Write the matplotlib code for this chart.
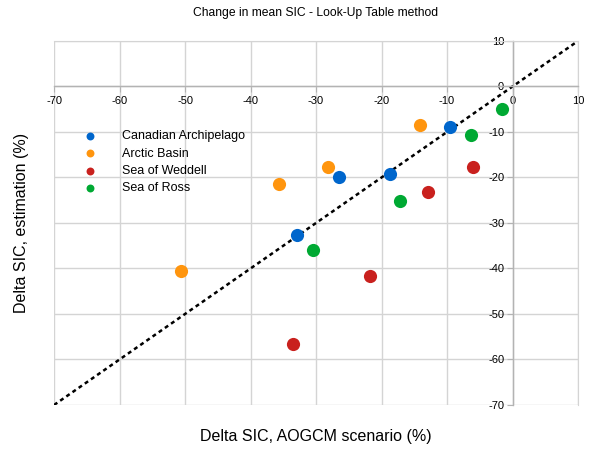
"""Change in mean SIC: look-up table estimate vs AOGCM scenario."""

import matplotlib

matplotlib.use("Agg")
import matplotlib.pyplot as plt

plt.rcParams["font.family"] = ["Liberation Sans", "DejaVu Sans"]
plt.rcParams["axes.unicode_minus"] = False

SERIES = ["Canadian Archipelago", "Arctic Basin", "Sea of Weddell", "Sea of Ross"]
COLORS = ["#0066cc", "#ff950e", "#c9211e", "#00a933"]

canadian_x = [-9.5, -18.7, -26.5, -32.9]
canadian_y = [-8.8, -19.3, -20.0, -32.6]
arctic_x = [-14.1, -28.2, -35.6, -50.6]
arctic_y = [-8.5, -17.7, -21.5, -40.5]
weddell_x = [-6.0, -12.9, -21.8, -33.5]
weddell_y = [-17.7, -23.1, -41.6, -56.7]
ross_x = [-1.6, -6.3, -17.2, -30.4]
ross_y = [-4.9, -10.7, -25.2, -36.0]

ticks = list(range(-70, 11, 10))

fig = plt.figure(figsize=(5.93, 4.49), dpi=100)
ax = fig.add_axes([0.0911, 0.0980, 0.8836, 0.8107])

xs = [canadian_x, arctic_x, weddell_x, ross_x]
ys = [canadian_y, arctic_y, weddell_y, ross_y]
for name, color, x, y in zip(SERIES, COLORS, xs, ys):
    ax.scatter(x, y, s=90, color=color, label=name, zorder=3, linewidths=0)

ax.plot([-70, 10], [-70, 10], color="black", linestyle=(0, (1.6, 1.4)),
        linewidth=1.8, zorder=2)

ax.set_xlim(-70, 10)
ax.set_ylim(-70, 10)
ax.set_xticks(ticks)
ax.set_yticks(ticks)
ax.grid(True, color="#d4d4d4", linewidth=1.0, zorder=0)
ax.set_axisbelow(True)

for side in ("left", "bottom"):
    ax.spines[side].set_position(("data", 0))
    ax.spines[side].set_color("#b3b3b3")
    ax.spines[side].set_linewidth(1.0)
for side in ("top", "right"):
    ax.spines[side].set_color("#d4d4d4")

ax.tick_params(axis="both", direction="out", length=4, color="#b3b3b3",
               labelsize=8, pad=2)
ax.tick_params(axis="x", pad=3)

fig.text(0.532, 0.971, "Change in mean SIC - Look-Up Table method",
         ha="center", va="center", fontsize=8.7)
fig.text(0.532, 0.027, "Delta SIC, AOGCM scenario (%)", ha="center",
         va="center", fontsize=11.5)
fig.text(0.037, 0.503, "Delta SIC, estimation (%)", ha="center", va="center",
         rotation=90, fontsize=11.5)

ax.legend(loc="upper left", bbox_to_anchor=(0.035, 0.768), frameon=False,
          fontsize=9, handletextpad=1.6, labelspacing=0.42,
          markerscale=0.6, borderaxespad=0)

fig.savefig("out.png", dpi=100)
